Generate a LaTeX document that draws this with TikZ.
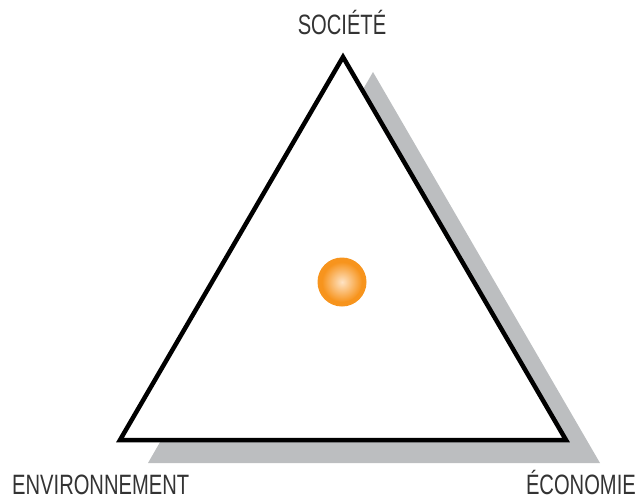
\documentclass[tikz,border=0pt]{standalone}
\usepackage{fontspec}
\newfontfamily\labelfont{Liberation Sans}[FakeStretch=0.72]
\definecolor{shadowgray}{HTML}{BCBEC0}
\definecolor{ballorange}{HTML}{F7941D}
\definecolor{balllight}{HTML}{FEE3C4}
\definecolor{labelgray}{HTML}{333333}
\begin{document}
\begin{tikzpicture}[x=1pt,y=-1pt,
    pole/.style={font=\labelfont\fontsize{28}{28}\selectfont,text=labelgray,inner sep=0pt}]

            %\draw [help lines] (0,0) grid (642,500);
            \useasboundingbox (0,0) rectangle (642,500);

            \path   (343,57)  coordinate (s)
                    (120,440) coordinate (e)
                    (566,440) coordinate (c)
                    (373,72)  coordinate (s')
                    (148,463) coordinate (e')
                    (600,463) coordinate (c');

            % shadow
            \fill[shadowgray] (s') -- (e') -- (c') -- cycle;
            % triangle
            \draw[line width=4.5pt,miter limit=20,fill=white] (s) -- (e) -- (c) -- cycle;

            % centre
            \fill[ballorange] (342,282) circle (24.5);
            \shade[inner color=balllight,outer color=ballorange] (342,282) circle (20);

            \node (soc) [pole,anchor=base] at (342,35) {SOCIÉTÉ};
            \node (env) [pole,anchor=base west] at (12,494) {ENVIRONNEMENT};
            \node (eco) [pole,anchor=base east] at (636,494) {ÉCONOMIE};
        \end{tikzpicture}
\end{document}
